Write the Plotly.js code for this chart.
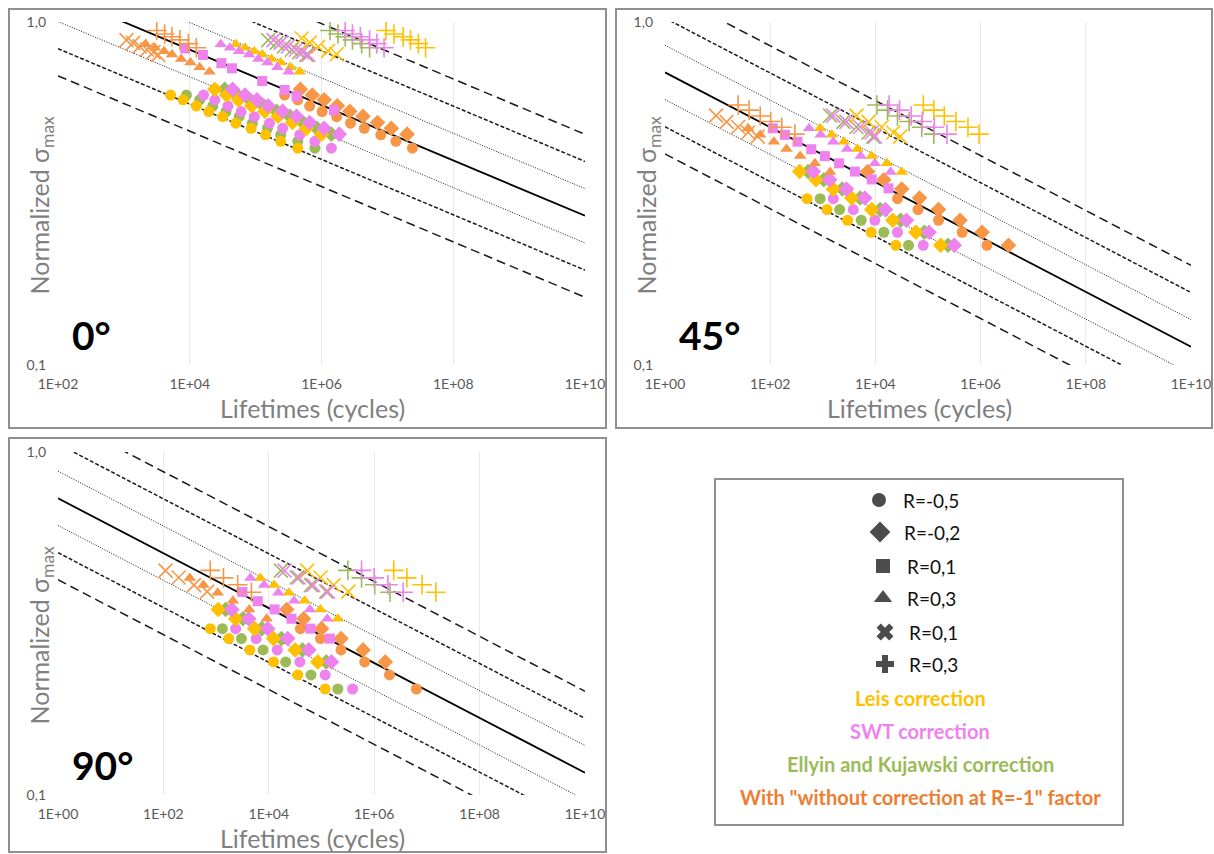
<!DOCTYPE html>
<html><head><meta charset="utf-8">
<script src="https://cdn.plot.ly/plotly-3.0.1.min.js"></script>
<style>html,body{margin:0;padding:0;background:#fff}#chart{width:1214px;height:854px}</style>
</head><body><div id="chart"></div>
<script>
// ---------------- DATA (lifetimes as log10(cycles), stresses as log10(normalized sigma_max)) ----------------
// Panel 0°
const p0_circle_logS = [-0.213,-0.227,-0.245,-0.261,-0.276,-0.295,-0.310,-0.329,-0.348,-0.368];
const p0_circle_leis = [3.71,3.90,4.10,4.29,4.50,4.70,4.93,5.15,5.38,5.64];
const p0_circle_ek   = [3.95,4.15,4.35,4.55,4.75,4.95,5.18,5.38,5.64,5.90];
const p0_circle_swt  = [4.21,4.38,4.58,4.78,4.98,5.21,5.41,5.67,5.90,6.15];
const p0_circle_raw  = [5.44,5.64,5.82,6.01,6.23,6.44,6.65,6.90,7.13,7.38];
const p0_diamond_logS = [-0.196,-0.213,-0.227,-0.244,-0.260,-0.275,-0.293,-0.310,-0.327];
const p0_diamond_leis = [4.38,4.56,4.74,4.94,5.14,5.34,5.56,5.77,6.00];
const p0_diamond_ek   = [4.53,4.72,4.91,5.12,5.32,5.52,5.72,5.93,6.15];
const p0_diamond_swt  = [4.65,4.84,5.02,5.19,5.41,5.62,5.82,6.04,6.27];
const p0_diamond_raw  = [5.68,5.86,6.04,6.24,6.43,6.63,6.85,7.06,7.30];
const p0_square_logS = [-0.077,-0.096,-0.120,-0.135,-0.172,-0.198,-0.216,-0.257];
const p0_square_swt  = [3.93,4.20,4.48,4.64,5.10,5.44,5.62,6.19];
const p0_triangle_logS = [-0.065,-0.075,-0.085,-0.095,-0.108,-0.118,-0.132,-0.145];
const p0_triangle_raw  = [3.33,3.47,3.61,3.73,3.87,4.01,4.15,4.30];
const p0_triangle_swt  = [4.47,4.61,4.75,4.90,5.04,5.18,5.33,5.50];
const p0_triangle_leis = [4.70,4.84,4.98,5.10,5.24,5.38,5.53,5.67];
const p0_x_logS = [-0.053,-0.061,-0.071,-0.081,-0.088,-0.096];
const p0_x_raw  = [3.04,3.14,3.24,3.35,3.45,3.52];
const p0_x_ek   = [5.19,5.32,5.43,5.55,5.66,5.77];
const p0_x_swt  = [5.27,5.38,5.49,5.61,5.71,5.80];
const p0_x_leis_logS = [-0.048,-0.060,-0.072,-0.084,-0.094];
const p0_x_leis = [5.70,5.82,5.95,6.10,6.23];
const p0_plus_logS = [-0.025,-0.035,-0.043,-0.052,-0.063,-0.075];
const p0_plus_raw  = [3.50,3.62,3.73,3.85,3.98,4.10];
const p0_plus_ek   = [6.13,6.25,6.36,6.47,6.61,6.73];
const p0_plus_swt  = [6.36,6.47,6.59,6.73,6.84,6.95];
const p0_plus_leis = [6.98,7.10,7.24,7.35,7.47,7.58];

// Panel 45°
const p45_circle_logS = [-0.515,-0.547,-0.578,-0.613,-0.651];
const p45_circle_leis = [2.70,3.08,3.47,3.92,4.39];
const p45_circle_ek   = [2.95,3.32,3.73,4.16,4.63];
const p45_circle_swt  = [3.20,3.58,3.99,4.42,4.91];
const p45_circle_raw  = [4.42,4.81,5.20,5.65,6.12];
const p45_diamond_logS = [-0.436,-0.460,-0.487,-0.513,-0.547,-0.578,-0.613,-0.651];
const p45_diamond_leis = [2.56,2.87,3.20,3.55,3.93,4.33,4.77,5.24];
const p45_diamond_ek   = [2.72,3.02,3.37,3.71,4.09,4.48,4.93,5.38];
const p45_diamond_swt  = [2.82,3.13,3.45,3.80,4.19,4.59,5.02,5.50];
const p45_diamond_raw  = [3.85,4.16,4.50,4.84,5.20,5.61,6.03,6.53];
const p45_square_logS = [-0.310,-0.329,-0.349,-0.371,-0.391,-0.412,-0.436,-0.459,-0.485];
const p45_square_swt  = [2.05,2.28,2.52,2.78,3.04,3.31,3.61,3.93,4.25];
const p45_triangle_logS = [-0.310,-0.329,-0.349,-0.370,-0.391,-0.412,-0.437];
const p45_triangle_raw  = [1.58,1.81,2.07,2.31,2.57,2.85,3.14];
const p45_triangle_swt  = [2.74,2.96,3.20,3.46,3.72,3.99,4.29];
const p45_triangle_leis = [2.95,3.17,3.40,3.66,3.93,4.22,4.50];
const p45_x_logS = [-0.273,-0.291,-0.306,-0.322,-0.334];
const p45_x_raw  = [0.97,1.17,1.39,1.58,1.76];
const p45_x_ek   = [3.14,3.39,3.64,3.87,3.96];
const p45_x_swt  = [3.20,3.45,3.71,3.93,3.99];
const p45_x_leis = [3.64,3.87,4.12,4.34,4.47];
const p45_plus_logS = [-0.242,-0.257,-0.274,-0.290,-0.307,-0.327];
const p45_plus_raw  = [1.39,1.60,1.81,2.01,2.22,2.47];
const p45_plus_ek   = [4.03,4.23,4.42,4.64,4.88,5.11];
const p45_plus_swt  = [4.26,4.46,4.68,4.89,5.12,5.36];
const p45_plus_leis = [4.91,5.11,5.31,5.53,5.76,5.97];

// Panel 90°
const p90_circle_logS = [-0.515,-0.544,-0.577,-0.612,-0.650,-0.691];
const p90_circle_leis = [2.89,3.24,3.64,4.09,4.55,5.07];
const p90_circle_ek   = [3.12,3.48,3.89,4.32,4.80,5.31];
const p90_circle_swt  = [3.37,3.76,4.16,4.59,5.07,5.59];
const p90_circle_raw  = [4.60,4.98,5.37,5.82,6.29,6.80];
const p90_diamond_logS = [-0.459,-0.486,-0.515,-0.544,-0.577,-0.612];
const p90_diamond_leis = [3.04,3.37,3.73,4.09,4.50,4.93];
const p90_diamond_ek   = [3.18,3.51,3.87,4.24,4.64,5.09];
const p90_diamond_swt  = [3.30,3.62,3.98,4.36,4.76,5.19];
const p90_diamond_raw  = [4.34,4.66,5.00,5.37,5.79,6.21];
const p90_square_logS = [-0.408,-0.435,-0.459,-0.486,-0.515,-0.544];
const p90_square_swt  = [3.50,3.79,4.11,4.43,4.79,5.16];
const p90_triangle_logS = [-0.367,-0.388,-0.410,-0.434,-0.459,-0.486];
const p90_triangle_raw  = [2.50,2.76,3.03,3.32,3.63,3.96];
const p90_triangle_swt  = [3.65,3.91,4.18,4.48,4.78,5.11];
const p90_triangle_leis = [3.84,4.10,4.38,4.68,4.98,5.31];
const p90_x_logS = [-0.346,-0.366,-0.388,-0.407];
const p90_x_raw  = [2.04,2.29,2.58,2.83];
const p90_x_ek   = [4.23,4.53,4.80,5.09];
const p90_x_swt  = [4.30,4.57,4.84,5.12];
const p90_x_leis = [4.73,4.98,5.23,5.51];
const p90_plus_logS = [-0.345,-0.367,-0.387,-0.409];
const p90_plus_raw  = [2.89,3.14,3.41,3.67];
const p90_plus_ek   = [5.50,5.76,6.01,6.30];
const p90_plus_swt  = [5.76,6.00,6.26,6.55];
const p90_plus_leis = [6.37,6.62,6.91,7.17];

// Basquin fit (log10 sigma at N=1, slope) per panel and scatter-band offsets (log10 of 1.2^k)
const panelNames = ['0°','45°','90°'];
const fitLogA  = [0.242, -0.147, -0.135];
const fitSlope = [-0.0807, -0.0800, -0.0800];
const bandLogOffsets = [-0.2375,-0.1584,-0.0792,0,0.0792,0.1584,0.2375];

const xTickExp0 = [2,4,6,8,10];
const xTickExp = [0,2,4,6,8,10];
const yTickVals = [0.1,1];
const yTickText = ['0,1','1,0'];

const legendLabels = ['R=-0,5','R=-0,2','R=0,1','R=0,3','R=0,1','R=0,3'];
const correctionLabels = ['Leis correction','SWT correction','Ellyin and Kujawski correction','With "without correction at R=-1" factor'];

// ---------------- STYLE ----------------
const COL = {raw:'#F79646', leis:'#FFC000', ek:'#9BBB59', swt:'#EE82EE'};
const SYM = {circle:'circle', diamond:'diamond', square:'square', triangle:'triangle-up', x:'x-thin', plus:'cross-thin'};
const SIZE = {circle:11, diamond:12, square:10, triangle:11, x:14, plus:14};
const W=1214, H=854;
const PX = x => x/W, PY = y => 1 - y/H;
// plot areas in pixels [left,right,top,bottom]
const areas = [[58,585,22,365],[665,1191,22,365],[58,585,452,795]];
const axIds = [['x','y'],['x2','y2'],['x3','y3']];
const xRanges = [[2,10],[0,10],[0,10]];

// series table: [panel, symbol, correction, logN, logS]
const series = [
 [0,'circle','ek',p0_circle_ek,p0_circle_logS],[0,'circle','raw',p0_circle_raw,p0_circle_logS],[0,'circle','leis',p0_circle_leis,p0_circle_logS],[0,'circle','swt',p0_circle_swt,p0_circle_logS],
 [0,'diamond','ek',p0_diamond_ek,p0_diamond_logS],[0,'diamond','raw',p0_diamond_raw,p0_diamond_logS],[0,'diamond','leis',p0_diamond_leis,p0_diamond_logS],[0,'diamond','swt',p0_diamond_swt,p0_diamond_logS],
 [0,'triangle','raw',p0_triangle_raw,p0_triangle_logS],[0,'triangle','leis',p0_triangle_leis,p0_triangle_logS],[0,'triangle','swt',p0_triangle_swt,p0_triangle_logS],
 [0,'square','swt',p0_square_swt,p0_square_logS],
 [0,'x','ek',p0_x_ek,p0_x_logS],[0,'x','raw',p0_x_raw,p0_x_logS],[0,'x','leis',p0_x_leis,p0_x_leis_logS],[0,'x','swt',p0_x_swt,p0_x_logS],
 [0,'plus','ek',p0_plus_ek,p0_plus_logS],[0,'plus','raw',p0_plus_raw,p0_plus_logS],[0,'plus','leis',p0_plus_leis,p0_plus_logS],[0,'plus','swt',p0_plus_swt,p0_plus_logS],

 [1,'circle','ek',p45_circle_ek,p45_circle_logS],[1,'circle','raw',p45_circle_raw,p45_circle_logS],[1,'circle','leis',p45_circle_leis,p45_circle_logS],[1,'circle','swt',p45_circle_swt,p45_circle_logS],
 [1,'diamond','ek',p45_diamond_ek,p45_diamond_logS],[1,'diamond','raw',p45_diamond_raw,p45_diamond_logS],[1,'diamond','leis',p45_diamond_leis,p45_diamond_logS],[1,'diamond','swt',p45_diamond_swt,p45_diamond_logS],
 [1,'triangle','raw',p45_triangle_raw,p45_triangle_logS],[1,'triangle','leis',p45_triangle_leis,p45_triangle_logS],[1,'triangle','swt',p45_triangle_swt,p45_triangle_logS],
 [1,'square','swt',p45_square_swt,p45_square_logS],
 [1,'x','ek',p45_x_ek,p45_x_logS],[1,'x','raw',p45_x_raw,p45_x_logS],[1,'x','leis',p45_x_leis,p45_x_logS],[1,'x','swt',p45_x_swt,p45_x_logS],
 [1,'plus','ek',p45_plus_ek,p45_plus_logS],[1,'plus','raw',p45_plus_raw,p45_plus_logS],[1,'plus','leis',p45_plus_leis,p45_plus_logS],[1,'plus','swt',p45_plus_swt,p45_plus_logS],

 [2,'circle','ek',p90_circle_ek,p90_circle_logS],[2,'circle','raw',p90_circle_raw,p90_circle_logS],[2,'circle','leis',p90_circle_leis,p90_circle_logS],[2,'circle','swt',p90_circle_swt,p90_circle_logS],
 [2,'diamond','ek',p90_diamond_ek,p90_diamond_logS],[2,'diamond','raw',p90_diamond_raw,p90_diamond_logS],[2,'diamond','leis',p90_diamond_leis,p90_diamond_logS],[2,'diamond','swt',p90_diamond_swt,p90_diamond_logS],
 [2,'triangle','raw',p90_triangle_raw,p90_triangle_logS],[2,'triangle','leis',p90_triangle_leis,p90_triangle_logS],[2,'triangle','swt',p90_triangle_swt,p90_triangle_logS],
 [2,'square','swt',p90_square_swt,p90_square_logS],
 [2,'x','ek',p90_x_ek,p90_x_logS],[2,'x','raw',p90_x_raw,p90_x_logS],[2,'x','leis',p90_x_leis,p90_x_logS],[2,'x','swt',p90_x_swt,p90_x_logS],
 [2,'plus','ek',p90_plus_ek,p90_plus_logS],[2,'plus','raw',p90_plus_raw,p90_plus_logS],[2,'plus','leis',p90_plus_leis,p90_plus_logS],[2,'plus','swt',p90_plus_swt,p90_plus_logS]
];

const traces = [];
// fit lines and scatter bands
const bandStyle = {
  '-0.2375':{dash:'9px,5px',width:1.5}, '0.2375':{dash:'9px,5px',width:1.5},
  '-0.1584':{dash:'4px,2px',width:1.5}, '0.1584':{dash:'4px,2px',width:1.5},
  '-0.0792':{dash:'1px,1.5px',width:1}, '0.0792':{dash:'1px,1.5px',width:1},
  '0':{dash:'solid',width:1.8}
};
for (let p=0;p<3;p++){
  const [x0,x1] = xRanges[p];
  bandLogOffsets.forEach(off=>{
    const st = bandStyle[String(off)];
    traces.push({type:'scatter',mode:'lines',xaxis:axIds[p][0],yaxis:axIds[p][1],hoverinfo:'skip',
      x:[Math.pow(10,x0),Math.pow(10,x1)],
      y:[Math.pow(10,fitLogA[p]+fitSlope[p]*x0+off),Math.pow(10,fitLogA[p]+fitSlope[p]*x1+off)],
      line:{color:off===0?'#000':'#1a1a1a',width:st.width,dash:st.dash}});
  });
}
series.forEach(([p,sym,cor,lN,lS])=>{
  const thin = (sym==='x'||sym==='plus');
  traces.push({type:'scatter',mode:'markers',xaxis:axIds[p][0],yaxis:axIds[p][1],
    x:lN.map(v=>Math.pow(10,v)), y:lS.map(v=>Math.pow(10,v)),
    marker:{symbol:SYM[sym],size:SIZE[sym],color:COL[cor],
      line:thin?{color:COL[cor],width:1.6}:{width:0}}});
});
// legend glyphs (black) on a hidden helper axis measured in pixels
const legendSymbols = ['circle','diamond','square','triangle-up','x','cross'];
const legendGlyphX = [879,880,883,883,885,885];
const legendRowY = [500,532,566,598,632,664];
traces.push({type:'scatter',mode:'markers',xaxis:'x4',yaxis:'y4',hoverinfo:'skip',
  x:legendGlyphX,y:legendRowY,marker:{symbol:legendSymbols,size:[14,16,14,16,15,15],color:'#000',line:{width:0}}});

function xaxis(p){
  const ex = p===0?xTickExp0:xTickExp;
  const a = areas[p];
  return {type:'log',domain:[PX(a[0]),PX(a[1])],range:xRanges[p],anchor:axIds[p][1],
    tickvals:ex.map(e=>Math.pow(10,e)),ticktext:ex.map(e=>'1E+'+String(e).padStart(2,'0')),
    showgrid:true,gridcolor:'#E9E9E9',gridwidth:1,zeroline:false,showline:false,ticks:'',
    tickfont:{family:'Lato, sans-serif',size:14,color:'#595959'},ticklabelstandoff:9,fixedrange:true};
}
function yaxis(p){
  const a = areas[p];
  return {type:'log',domain:[PY(a[3]),PY(a[2])],range:[-1,0],anchor:axIds[p][0],
    tickvals:yTickVals,ticktext:yTickText,showgrid:true,gridcolor:'#E9E9E9',gridwidth:1,
    zeroline:false,showline:false,ticks:'',
    tickfont:{family:'Lato, sans-serif',size:14,color:'#595959'},ticklabelstandoff:11,fixedrange:true};
}

const annotations = [];
const titleFont = {family:'Lato, sans-serif',size:25,color:'#7F7F7F'};
for (let p=0;p<3;p++){
  const a = areas[p];
  const cx = (a[0]+a[1])/2 - 9;
  annotations.push({xref:'paper',yref:'paper',x:PX(cx),y:PY(a[3]+43),text:'Lifetimes (cycles)',showarrow:false,font:titleFont,xanchor:'center',yanchor:'middle'});
  annotations.push({xref:'paper',yref:'paper',x:PX(a[0]-18),y:PY((a[2]+a[3])/2+12),text:'Normalized σ<sub>max</sub>',textangle:-90,showarrow:false,font:titleFont,xanchor:'center',yanchor:'middle'});
  annotations.push({xref:'paper',yref:'paper',x:PX(a[0]+12),y:PY(a[3]-30),text:'<b>'+panelNames[p]+'</b>',showarrow:false,font:{family:'Lato, sans-serif',size:39,color:'#000'},xanchor:'left',yanchor:'middle'});
}
const legendTextX = [901,902,905,905,907,907];
legendLabels.forEach((t,i)=>annotations.push({xref:'paper',yref:'paper',x:PX(legendTextX[i]),y:PY(legendRowY[i]),text:t,showarrow:false,xanchor:'left',yanchor:'middle',font:{family:'Lato, sans-serif',size:19,color:'#111'}}));
const corColors = [COL.leis,COL.swt,COL.ek,'#ED7D31'];
const corRowY = [698,731,764,797];
correctionLabels.forEach((t,i)=>annotations.push({xref:'paper',yref:'paper',x:PX(920),y:PY(corRowY[i]),text:'<b>'+t+'</b>',showarrow:false,xanchor:'center',yanchor:'middle',font:{family:'Lato, sans-serif',size:20,color:corColors[i]}}));

const boxes = [[9,606,9,428],[616,1212,9,428],[9,606,438,852],[715,1123,479,825]];
const shapes = boxes.map(b=>({type:'rect',xref:'paper',yref:'paper',x0:PX(b[0]),x1:PX(b[1]),y0:PY(b[3]),y1:PY(b[2]),line:{color:'#8F8F8F',width:2},fillcolor:'rgba(0,0,0,0)'}));

const layout = {
  width:W,height:H,margin:{l:0,r:0,t:0,b:0},paper_bgcolor:'#fff',plot_bgcolor:'#fff',showlegend:false,
  font:{family:'Lato, sans-serif'},
  xaxis:xaxis(0),yaxis:yaxis(0),xaxis2:xaxis(1),yaxis2:yaxis(1),xaxis3:xaxis(2),yaxis3:yaxis(2),
  xaxis4:{domain:[PX(715),PX(1123)],range:[715,1123],visible:false,fixedrange:true,anchor:'y4'},
  yaxis4:{domain:[PY(825),PY(479)],range:[825,479],visible:false,fixedrange:true,anchor:'x4'},
  annotations,shapes
};
Plotly.newPlot('chart',traces,layout,{displayModeBar:false,staticPlot:true});
</script></body></html>
